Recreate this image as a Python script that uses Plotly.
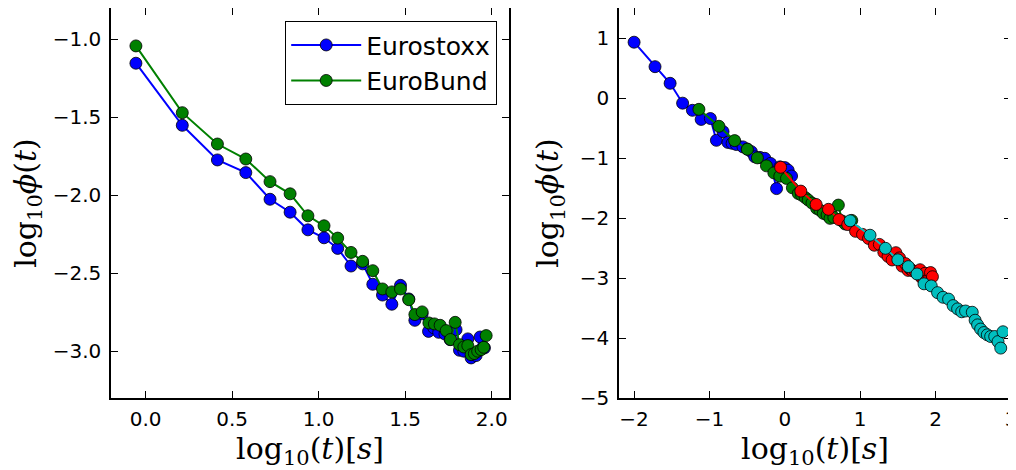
import plotly.graph_objects as go

# ---- Left panel data ----
x_stoxx = [-0.056, 0.212, 0.415, 0.579, 0.719, 0.835, 0.938, 1.031, 1.110, 1.187,
           1.254, 1.313, 1.369, 1.423, 1.473, 1.521, 1.556, 1.598, 1.635, 1.665,
           1.694, 1.730, 1.760, 1.794, 1.814, 1.839, 1.862, 1.881, 1.910, 1.933, 1.958]
y_stoxx = [-1.154, -1.552, -1.774, -1.855, -2.026, -2.109, -2.222, -2.273, -2.341, -2.454,
           -2.440, -2.571, -2.640, -2.699, -2.578, -2.665, -2.802, -2.760, -2.873, -2.850,
           -2.879, -2.890, -2.926, -2.862, -2.994, -3.000, -2.921, -3.043, -3.028, -2.909, -2.979]

x_bund = [-0.056, 0.212, 0.415, 0.579, 0.719, 0.835, 0.938, 1.031, 1.110, 1.187,
          1.254, 1.313, 1.369, 1.423, 1.473, 1.521, 1.556, 1.598, 1.637, 1.669,
          1.702, 1.737, 1.762, 1.789, 1.814, 1.839, 1.862, 1.881, 1.900, 1.919,
          1.939, 1.954, 1.968]
y_bund = [-1.043, -1.471, -1.672, -1.768, -1.913, -1.991, -2.132, -2.196, -2.275, -2.367,
          -2.424, -2.484, -2.601, -2.620, -2.601, -2.670, -2.765, -2.748, -2.819, -2.825,
          -2.834, -2.868, -2.925, -2.815, -2.958, -2.973, -2.964, -3.022, -3.015, -3.000,
          -2.990, -2.975, -2.900]

# ---- Right panel data ----
x_blue_r = [-2.0, -1.722, -1.522, -1.356, -1.226, -1.11, -0.988, -0.908, -0.82, -0.755,
            -0.70, -0.644, -0.555, -0.50, -0.444, -0.40, -0.33, -0.266, -0.19, -0.11,
            -0.067, 0.0, 0.044, 0.089]
y_blue_r = [0.93, 0.522, 0.245, -0.086, -0.205, -0.357, -0.342, -0.705, -0.56, -0.74,
            -0.755, -0.775, -0.815, -0.85, -0.895, -0.98, -0.99, -1.005, -1.09, -1.51,
            -1.148, -1.16, -1.203, -1.30]

x_green_r = [-1.14, -0.874, -0.666, -0.497, -0.364, -0.244, -0.146, -0.067, 0.022, 0.10,
             0.178, 0.222, 0.27, 0.31, 0.36, 0.422, 0.466, 0.51, 0.56, 0.60, 0.65,
             0.71, 0.76, 0.80, 0.888]
y_green_r = [-0.189, -0.471, -0.71, -0.854, -0.998, -1.131, -1.248, -1.303, -1.34, -1.497,
             -1.592, -1.618, -1.66, -1.70, -1.75, -1.84, -1.87, -1.923, -1.95, -2.006, -1.99,
             -1.785, -2.05, -2.10, -2.04]

x_red_r = x_stoxx
y_red_r = y_stoxx

x_cyan_r = [0.866, 1.13, 1.335, 1.499, 1.638, 1.753, 1.846, 1.942, 2.026, 2.099,
            2.172, 2.232, 2.292, 2.346, 2.397, 2.486, 2.524, 2.557, 2.597, 2.641,
            2.686, 2.73, 2.784, 2.828, 2.864, 2.894]
y_cyan_r = [-2.046, -2.287, -2.505, -2.697, -2.81, -2.933, -3.097, -3.132, -3.244, -3.321,
            -3.352, -3.46, -3.515, -3.563, -3.55, -3.571, -3.704, -3.781, -3.851, -3.909,
            -3.947, -3.975, -3.975, -4.06, -4.168, -3.896]

BLUE = "#0000ff"
GREEN = "#008000"
RED = "#ff0000"
CYAN = "#00bfbf"

# page body has an 8px margin, so the figure is 8px smaller and coords are shifted
W, H = 1008, 462


def series(x, y, color, name, xa, ya, showlegend):
    return go.Scatter(
        x=x, y=y, mode="lines+markers", name=name,
        line=dict(color=color, width=2),
        marker=dict(color=color, size=12, line=dict(color="black", width=0.8)),
        xaxis=xa, yaxis=ya, showlegend=showlegend, cliponaxis=False,
    )


fig = go.Figure()
fig.add_trace(series(x_stoxx, y_stoxx, BLUE, "Eurostoxx", "x", "y", True))
fig.add_trace(series(x_bund, y_bund, GREEN, "EuroBund", "x", "y", True))
fig.add_trace(series(x_blue_r, y_blue_r, BLUE, "blue", "x2", "y2", False))
fig.add_trace(series(x_green_r, y_green_r, GREEN, "green", "x2", "y2", False))
fig.add_trace(series(x_red_r, y_red_r, RED, "red", "x2", "y2", False))
fig.add_trace(series(x_cyan_r, y_cyan_r, CYAN, "cyan", "x2", "y2", False))

tick_font = dict(family="DejaVu Sans", size=20, color="black")
title_font = dict(family="DejaVu Serif", size=30, color="black")

axis_common = dict(
    showline=True, linecolor="black", linewidth=1.5, mirror="ticks",
    ticks="inside", ticklen=7, tickwidth=1, tickcolor="black",
    showgrid=False, zeroline=False, tickfont=tick_font, automargin=False,
    ticklabeloverflow="allow",
)

xtitle = "log<sub>10</sub>(<i>t</i>)[<i>s</i>]"
ytitle = "log<sub>10</sub><i>ϕ</i>(<i>t</i>)"

fig.update_layout(
    width=W, height=H,
    margin=dict(l=0, r=0, t=0, b=H - 390),
    paper_bgcolor="white", plot_bgcolor="white",
    xaxis=dict(domain=[103 / W, 501 / W], range=[-0.2, 2.1], dtick=0.5,
               tickformat=".1f", anchor="y", ticklabelstandoff=2,
               title=dict(text=xtitle, font=title_font, standoff=2), **axis_common),
    yaxis=dict(domain=[0, 1], range=[-3.3, -0.8], dtick=0.5, tickformat=".1f",
               anchor="x", ticklabelstandoff=4,
               title=dict(text=ytitle, font=title_font, standoff=12),
               **axis_common),
    xaxis2=dict(domain=[611 / W, 1003 / W], range=[-2.2, 3.0001], dtick=1,
                anchor="y2", ticklabelstandoff=2,
                title=dict(text=xtitle, font=title_font, standoff=2), **axis_common),
    yaxis2=dict(domain=[0, 1], range=[-5, 1.5], dtick=1, anchor="x2",
                ticklabelstandoff=4,
                title=dict(text=ytitle, font=title_font, standoff=12), **axis_common),
    legend=dict(x=489 / W, xanchor="right", y=(390 - 13) / 390, yanchor="top",
                bordercolor="black", borderwidth=1.2, bgcolor="white",
                font=dict(family="DejaVu Sans", size=25, color="black"),
                tracegroupgap=4, itemwidth=70),
)

fig.write_html("out.html")
